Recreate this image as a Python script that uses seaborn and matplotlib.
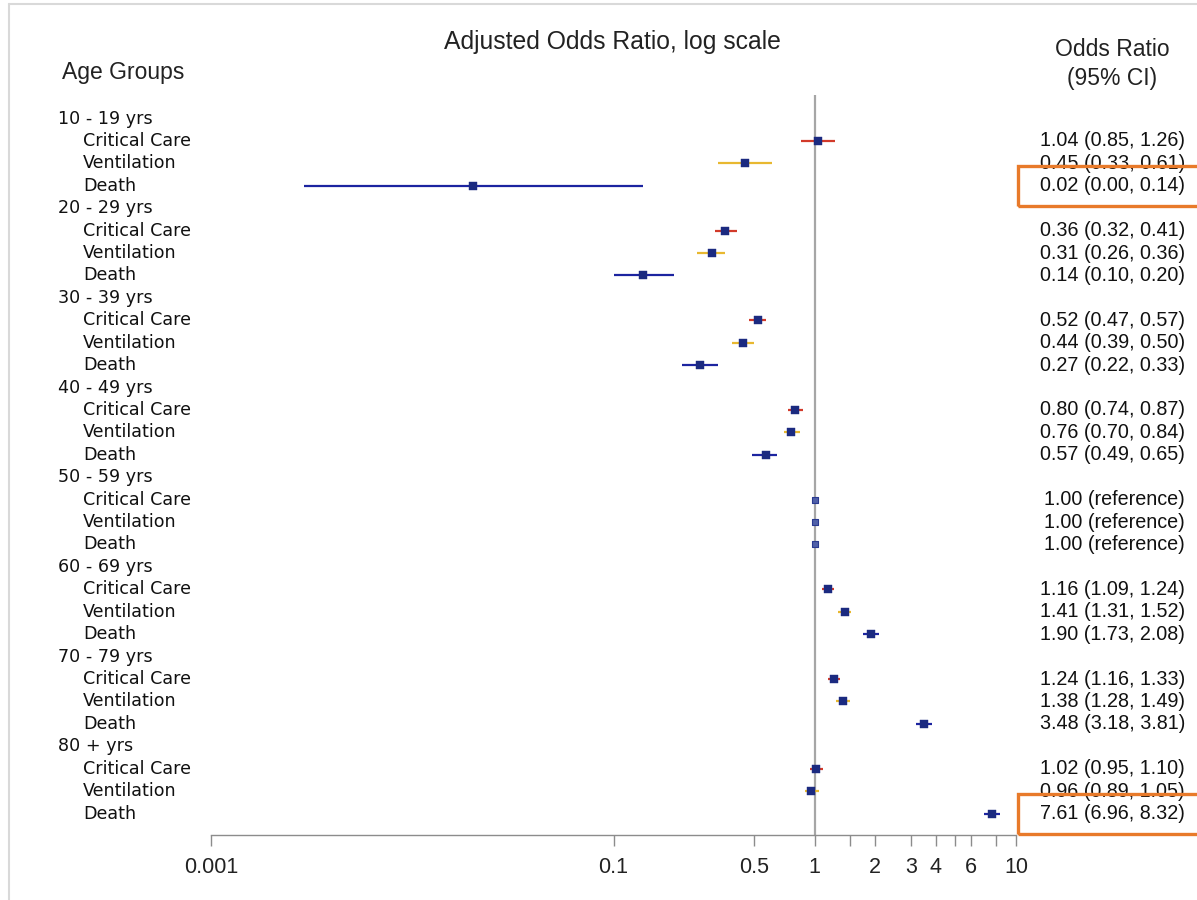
import numpy as np
import pandas as pd
import matplotlib
matplotlib.use("Agg")
import matplotlib.pyplot as plt
from matplotlib.patches import Rectangle
from matplotlib.ticker import FixedLocator, FixedFormatter, NullLocator
import seaborn as sns

# ---------------- data ----------------
groups = ["10 - 19 yrs", "20 - 29 yrs", "30 - 39 yrs", "40 - 49 yrs",
          "50 - 59 yrs", "60 - 69 yrs", "70 - 79 yrs", "80 + yrs"]
outcomes = ["Critical Care", "Ventilation", "Death"]

or_cc = [1.04, 0.36, 0.52, 0.80, 1.00, 1.16, 1.24, 1.02]
lo_cc = [0.85, 0.32, 0.47, 0.74, 1.00, 1.09, 1.16, 0.95]
hi_cc = [1.26, 0.41, 0.57, 0.87, 1.00, 1.24, 1.33, 1.10]

or_vent = [0.45, 0.31, 0.44, 0.76, 1.00, 1.41, 1.38, 0.96]
lo_vent = [0.33, 0.26, 0.39, 0.70, 1.00, 1.31, 1.28, 0.89]
hi_vent = [0.61, 0.36, 0.50, 0.84, 1.00, 1.52, 1.49, 1.05]

or_death = [0.02, 0.14, 0.27, 0.57, 1.00, 1.90, 3.48, 7.61]
lo_death = [0.0029, 0.10, 0.22, 0.49, 1.00, 1.73, 3.18, 6.96]
hi_death = [0.14, 0.20, 0.33, 0.65, 1.00, 2.08, 3.81, 8.32]

reference_group = "50 - 59 yrs"
highlight_rows = [("10 - 19 yrs", "Death"), ("80 + yrs", "Death")]

tick_values = [0.001, 0.1, 0.5, 1, 1.5, 2, 3, 4, 5, 6, 8, 10]
tick_labels = ["0.001", "0.1", "0.5", "1", "", "2", "3", "4", "", "6", "", "10"]

# ---------------- build table ----------------
series = {
    "Critical Care": (or_cc, lo_cc, hi_cc),
    "Ventilation": (or_vent, lo_vent, hi_vent),
    "Death": (or_death, lo_death, hi_death),
}
rows = []
label_rows = []
pos = 0
for gi, g in enumerate(groups):
    label_rows.append((pos, g, True))
    pos += 1
    for o in outcomes:
        v, lo, hi = series[o]
        rows.append(dict(group=g, outcome=o, y=pos, OR=v[gi], lo=lo[gi], hi=hi[gi]))
        label_rows.append((pos, o, False))
        pos += 1
df = pd.DataFrame(rows)

ci_colors = {"Critical Care": "#d23a2a", "Ventilation": "#e8b830", "Death": "#1c24a0"}
navy = "#1b2a80"

# ---------------- figure ----------------
sns.set_theme(style="white")
plt.rcParams["font.family"] = ["DejaVu Sans"]

W, H = 1197, 900
fig = plt.figure(figsize=(W / 100, H / 100), dpi=100)

def fx(px):
    return px / W

def fy(py):
    return 1 - py / H

ax_left, ax_right, ax_top, ax_bottom = 211, 1016, 95, 835
ax = fig.add_axes([fx(ax_left), fy(ax_bottom), fx(ax_right - ax_left), (ax_bottom - ax_top) / H])

row0_px, row_step = 118.5, 22.42
ax.set_ylim((ax_bottom - row0_px) / row_step, (ax_top - row0_px) / row_step)
ax.set_xscale("log")
ax.set_xlim(0.001, 10)

# reference line at 1
ax.axvline(1, color="#a6a6a6", lw=1.6, zorder=1)

# CIs
for o in outcomes:
    sub = df[df.outcome == o]
    ax.hlines(sub["y"], sub["lo"], sub["hi"], color=ci_colors[o], lw=1.6, zorder=2)

# points
main = df[df.group != reference_group]
ref = df[df.group == reference_group]
sns.scatterplot(data=main, x="OR", y="y", marker="s", color=navy, s=26,
                edgecolor=navy, linewidth=0.3, ax=ax, zorder=3, legend=False)
sns.scatterplot(data=ref, x="OR", y="y", marker="s", color="#5060a8", s=20,
                edgecolor="#2a3a90", linewidth=0.8, ax=ax, zorder=3, legend=False)

# axes styling
for s in ["top", "right", "left"]:
    ax.spines[s].set_visible(False)
ax.spines["bottom"].set_color("#8c8c8c")
ax.spines["bottom"].set_linewidth(1.0)
ax.set_yticks([])
ax.xaxis.set_major_locator(FixedLocator(tick_values))
ax.xaxis.set_major_formatter(FixedFormatter(tick_labels))
ax.xaxis.set_minor_locator(NullLocator())
ax.tick_params(axis="x", which="major", direction="out", length=8, width=1.0,
               color="#8c8c8c", labelsize=15.5, labelcolor="#222222", pad=8,
               bottom=True)
for lab in ax.get_xticklabels():
    lab.set_family(["Liberation Sans"])
ax.set_xlabel("")
ax.set_ylabel("")

# headers
hdr = dict(family=["Liberation Sans"], color="#222222")
fig.text(fx(612), fy(42), "Adjusted Odds Ratio, log scale", ha="center", va="center",
         fontsize=17.8, **hdr)
fig.text(fx(62), fy(72), "Age Groups", ha="left", va="center", fontsize=16.5, **hdr)
fig.text(fx(1112), fy(49), "Odds Ratio", ha="center", va="center", fontsize=16.5, **hdr)
fig.text(fx(1112), fy(78), "(95% CI)", ha="center", va="center", fontsize=16.5, **hdr)

# row labels
tr = matplotlib.transforms.blended_transform_factory(fig.transFigure, ax.transData)
for y, text, is_group in label_rows:
    x = fx(58) if is_group else fx(83)
    ax.text(x, y, text, transform=tr, ha="left", va="center", fontsize=12.6,
            color="#111111", family=["DejaVu Sans"], clip_on=False)

# CI text column
for _, r in df.iterrows():
    if r.group == reference_group:
        s = f"{r.OR:.2f} (reference)"
    else:
        s = f"{r.OR:.2f} ({r.lo:.2f}, {r.hi:.2f})"
    ax.text(fx(1185), r.y, s, transform=tr, ha="right", va="center", fontsize=14.2,
            color="#111111", family=["Liberation Sans"], clip_on=False)

# highlight boxes
for g, o in highlight_rows:
    yv = df[(df.group == g) & (df.outcome == o)]["y"].iloc[0]
    ypx = row0_px + yv * row_step
    rect = Rectangle((fx(1018), fy(ypx + 20)), fx(1205 - 1018), 40 / H,
                     transform=fig.transFigure, fill=False, edgecolor="#e87a2a",
                     lw=2.4, clip_on=False)
    fig.patches.append(rect)

# light frame at top/left
fig.add_artist(plt.Line2D([fx(9), fx(9)], [fy(4), 0], color="#d9d9d9", lw=1.5,
                          transform=fig.transFigure))
fig.add_artist(plt.Line2D([fx(9), 1], [fy(4), fy(4)], color="#d9d9d9", lw=1.5,
                          transform=fig.transFigure))

fig.savefig("out.png", dpi=100)
